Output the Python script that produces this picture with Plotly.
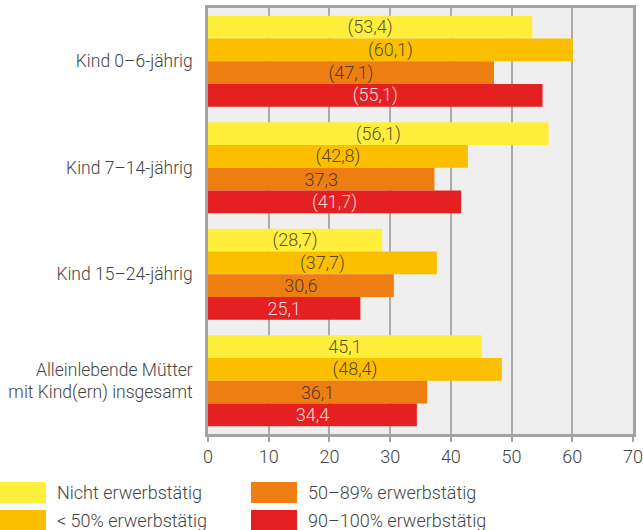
import plotly.graph_objects as go

categories = ["Kind 0–6-jährig", "Kind 7–14-jährig", "Kind 15–24-jährig",
              "Alleinlebende Mütter<br>mit Kind(ern) insgesamt"]
series_names = ["Nicht erwerbstätig", "< 50% erwerbstätig",
                "50–89% erwerbstätig", "90–100% erwerbstätig"]
values = [
    [53.4, 56.1, 28.7, 45.1],
    [60.1, 42.8, 37.7, 48.4],
    [47.1, 37.3, 30.6, 36.1],
    [55.1, 41.7, 25.1, 34.4],
]
# True = value shown in parentheses (limited reliability)
in_parens = [
    [True, True, True, False],
    [True, True, True, True],
    [True, False, False, False],
    [True, True, False, False],
]
x_ticks = [0, 10, 20, 30, 40, 50, 60, 70]

colors = ["#FFEE3B", "#FCBF00", "#EE7D12", "#E52020"]
text_colors = ["rgba(40,40,40,0.8)", "rgba(40,40,40,0.8)", "rgba(40,40,40,0.8)",
               "rgba(255,255,255,0.85)"]

FONT = "Roboto"
W, H = 643, 530
L, R, T, B = 208, 10, 8, 96
pw, ph = W - L - R, H - T - B


def px(x):
    return (x - L) / pw


def py(y):
    return (H - B - y) / ph


def fmt(v, p):
    s = f"{v:.1f}".replace(".", ",")
    return f"({s})" if p else s


fig = go.Figure()
for i, name in enumerate(series_names):
    fig.add_trace(go.Bar(
        y=categories, x=values[i], orientation="h", name=name,
        marker=dict(color=colors[i], line=dict(width=0)),
        text=[fmt(v, p) for v, p in zip(values[i], in_parens[i])],
        textposition="inside", insidetextanchor="middle",
        textfont=dict(family=FONT, size=18, color=text_colors[i], weight=300),
        constraintext="none", hoverinfo="skip", showlegend=False,
    ))

shapes = []
annotations = []
legend_pos = [(0, 482), (0, 510), (251, 482), (251, 510)]
for i, name in enumerate(series_names):
    x0, y0 = legend_pos[i]
    shapes.append(dict(type="rect", xref="paper", yref="paper",
                       x0=px(x0), x1=px(x0 + 46), y0=py(y0 + 21), y1=py(y0),
                       fillcolor=colors[i], line=dict(width=0), layer="above"))
    annotations.append(dict(xref="paper", yref="paper", x=px(x0 + 55),
                            y=py(y0 + 10.5), text=name, showarrow=False,
                            xanchor="left", yanchor="middle",
                            font=dict(family=FONT, size=18, color="#444", weight=300)))

fig.update_layout(
    width=W, height=H,
    margin=dict(l=L, r=R, t=T, b=B, pad=0, autoexpand=False),
    paper_bgcolor="white", plot_bgcolor="#EFEFEF",
    barmode="group", bargap=0.145, bargroupgap=0,
    font=dict(family=FONT, size=18, color="#444", weight=300),
    xaxis=dict(range=[0, 70], tickvals=x_ticks, showgrid=True, automargin=False,
               gridcolor="#ABABAB", gridwidth=1.5, zeroline=False,
               showline=True, linecolor="#A3A3A3", linewidth=2.5, mirror=True,
               ticks="outside", ticklen=5, tickwidth=1.5, tickcolor="#A3A3A3",
               tickfont=dict(family=FONT, size=18, color="#444", weight=300),
               fixedrange=True),
    yaxis=dict(autorange="reversed", showgrid=False, zeroline=False, automargin=False,
               showline=True, linecolor="#A3A3A3", linewidth=2.5, mirror=True,
               ticks="", ticklabelstandoff=9,
               tickfont=dict(family=FONT, size=17.5, color="#444", weight=300),
               fixedrange=True),
    shapes=shapes, annotations=annotations,
    showlegend=False,
)

fig.write_html("out.html", config={"displayModeBar": False},
               post_script="document.body.style.margin='0';"
                           "document.body.style.overflow='hidden';")
